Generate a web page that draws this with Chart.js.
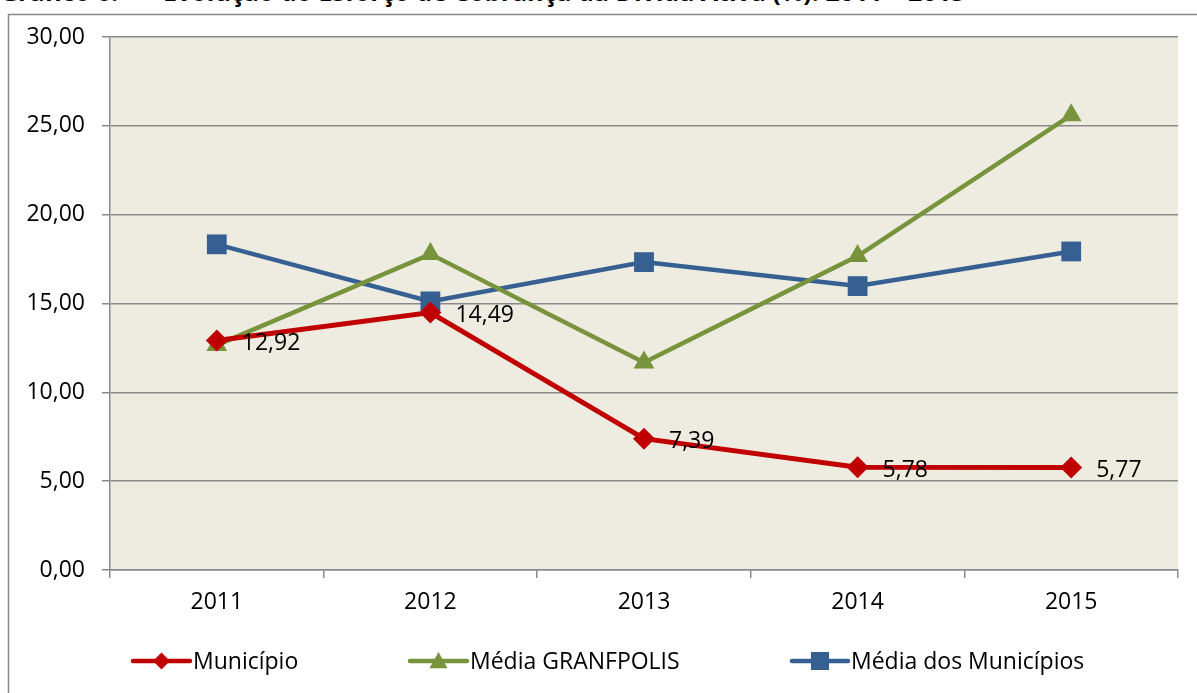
<!DOCTYPE html>
<html><head><meta charset="utf-8">
<script src="https://cdn.jsdelivr.net/npm/chart.js@4/dist/chart.umd.min.js"></script>
<style>
html,body{margin:0;padding:0;background:#fff;overflow:hidden;}
#wrap{position:relative;width:1197px;height:693px;overflow:hidden;}
#title{position:absolute;left:0;top:-21px;font:bold 25px/25px "Open Sans",sans-serif;color:#000;white-space:pre;}
canvas{position:absolute;left:0;top:0;}
</style></head>
<body><div id="wrap"><div id="title">Gráfico 6:   –  Evolução do Esforço de Cobrança da Dívida Ativa (%): 2011 – 2015</div><canvas id="c" width="1197" height="693"></canvas></div>
<script>
const categories = ['2011','2012','2013','2014','2015'];
const municipio = [12.92, 14.49, 7.39, 5.78, 5.77];
const granfpolis = [12.66, 17.78, 11.68, 17.67, 25.6];
const mediaMunicipios = [18.33, 15.12, 17.33, 15.98, 17.93];
const seriesNames = ['Município', 'Média GRANFPOLIS', 'Média dos Municípios'];
const yTicks = [0,5,10,15,20,25,30];

const FONT = '"Open Sans", sans-serif';
const FS = 23;
const RED = '#C00000', GREEN = '#77933C', BLUE = '#376092';

const bgPlugin = {
  id: 'bg',
  beforeDraw(chart) {
    const {ctx, chartArea: a} = chart;
    ctx.save();
    ctx.strokeStyle = '#898989'; ctx.lineWidth = 1.5;
    ctx.strokeRect(8.5, 14.5, 1300, 800);
    ctx.fillStyle = '#EEECE1';
    ctx.fillRect(a.left, a.top, a.right - a.left, a.bottom - a.top);
    ctx.restore();
  }
};

const labelPlugin = {
  id: 'labels',
  afterDatasetsDraw(chart) {
    const {ctx} = chart;
    const meta = chart.getDatasetMeta(0);
    ctx.save();
    ctx.font = FS + 'px ' + FONT;
    ctx.fillStyle = '#000';
    ctx.textAlign = 'left';
    ctx.textBaseline = 'middle';
    meta.data.forEach((pt, i) => {
      ctx.fillText(municipio[i].toFixed(2).replace('.', ','), pt.x + 25, pt.y + 3);
    });
    ctx.restore();
  }
};

function marker(ctx, style, x, y, r, color) {
  ctx.fillStyle = color;
  ctx.beginPath();
  if (style === 'diamond') {
    ctx.moveTo(x, y - r); ctx.lineTo(x + r, y); ctx.lineTo(x, y + r); ctx.lineTo(x - r, y);
  } else if (style === 'triangle') {
    ctx.moveTo(x, y - r); ctx.lineTo(x + r, y + r * 0.8); ctx.lineTo(x - r, y + r * 0.8);
  } else {
    ctx.rect(x - r, y - r, 2 * r, 2 * r);
  }
  ctx.closePath(); ctx.fill();
}

const legendPlugin = {
  id: 'customLegend',
  afterDraw(chart) {
    const {ctx} = chart;
    const items = [
      {x: 133, w: 57, style: 'diamond', color: RED, r: 8.5},
      {x: 410, w: 57, style: 'triangle', color: GREEN, r: 9},
      {x: 792, w: 56, style: 'square', color: BLUE, r: 9}
    ];
    const y = 661;
    ctx.save();
    items.forEach((it, i) => {
      ctx.strokeStyle = it.color; ctx.lineWidth = 4.5; ctx.lineCap = 'round';
      ctx.beginPath(); ctx.moveTo(it.x, y); ctx.lineTo(it.x + it.w, y); ctx.stroke();
      marker(ctx, it.style, it.x + it.w / 2, y, it.r, it.color);
      ctx.fillStyle = '#000'; ctx.font = FS + 'px ' + FONT;
      ctx.textAlign = 'left'; ctx.textBaseline = 'middle';
      ctx.fillText(seriesNames[i], it.x + it.w + 3, y + 1);
    });
    ctx.restore();
  }
};

new Chart(document.getElementById('c'), {
  type: 'line',
  data: {
    labels: categories,
    datasets: [
      {label: seriesNames[0], data: municipio, borderColor: RED, backgroundColor: RED, borderWidth: 5,
       pointStyle: 'rectRot', pointRadius: 11, pointHoverRadius: 11, pointBorderWidth: 0, tension: 0},
      {label: seriesNames[1], data: granfpolis, borderColor: GREEN, backgroundColor: GREEN, borderWidth: 4.5,
       pointStyle: 'triangle', pointRadius: 12, pointHoverRadius: 12, pointBorderWidth: 0, tension: 0},
      {label: seriesNames[2], data: mediaMunicipios, borderColor: BLUE, backgroundColor: BLUE, borderWidth: 4.5,
       pointStyle: 'rect', pointRadius: 14, pointHoverRadius: 14, pointBorderWidth: 0, tension: 0}
    ]
  },
  options: {
    responsive: false,
    animation: false,
    layout: {padding: {left: 0, right: 19, top: 37, bottom: 63}},
    plugins: {legend: {display: false}, tooltip: {enabled: false}, title: {display: false}},
    scales: {
      x: {
        offset: true,
        grid: {offset: true, drawOnChartArea: false, drawTicks: true, tickLength: 8, color: '#898989', lineWidth: 1.5},
        border: {display: true, color: '#898989', width: 1.5},
        ticks: {font: {family: FONT, size: FS}, color: '#000', padding: 11},
        afterFit(s) { s.height = 60; }
      },
      y: {
        min: 0, max: 30,
        afterBuildTicks(s) { s.ticks = yTicks.map(v => ({value: v})); },
        grid: {color: '#898989', lineWidth: 1.5, tickLength: 8},
        border: {display: true, color: '#898989', width: 1.5},
        ticks: {font: {family: FONT, size: FS}, color: '#000', padding: 17,
                callback: v => v.toFixed(2).replace('.', ',')},
        afterFit(s) { s.width = 110; }
      }
    }
  },
  plugins: [bgPlugin, labelPlugin, legendPlugin]
});
</script></body></html>
